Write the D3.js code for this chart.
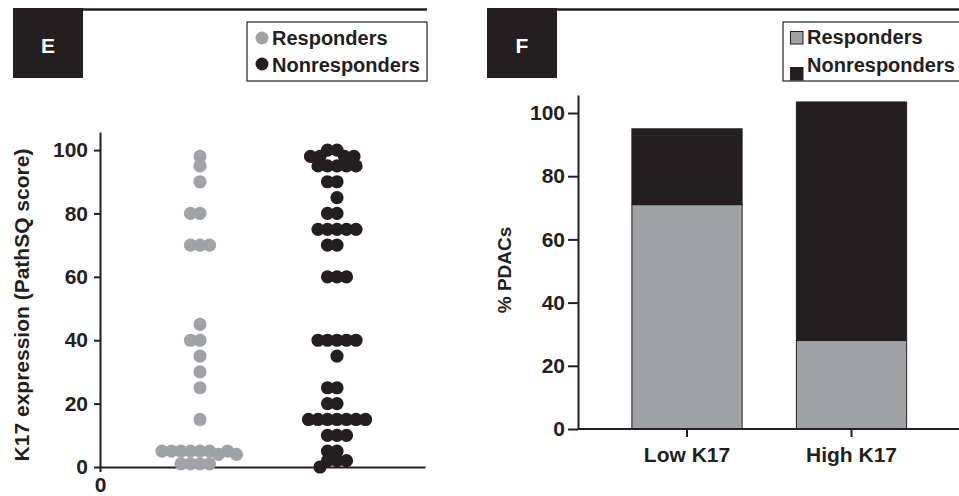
<!DOCTYPE html>
<html>
<head>
<meta charset="utf-8">
<script src="https://cdn.jsdelivr.net/npm/d3@7"></script>
<style>
  body { margin: 0; background: #fff; }
  svg { display: block; font-family: "Liberation Sans", Arial, sans-serif; font-weight: bold; }
  .axis path, .axis line { stroke: #231f20; stroke-width: 2; }
  .axis text { fill: #231f20; font-size: 21px; font-family: "Liberation Sans", Arial, sans-serif; font-weight: bold; }
</style>
</head>
<body>
<svg id="chart" width="959" height="496"></svg>
<script>
// panel E: individual PathSQ scores
var groups = ["Responders", "Nonresponders"]
var responderScores = [98, 95, 90, 80, 80, 70, 70, 70, 45, 40, 40, 35, 30, 25, 15,
    5, 5, 5, 5, 4, 5, 5, 4, 5, 1, 1, 1, 1]
var nonresponderScores = [100, 100, 98, 98, 98, 98, 95, 95, 95, 95, 95, 90, 90, 85, 80, 80,
    75, 75, 75, 75, 75, 70, 70, 60, 60, 60, 40, 40, 40, 40, 40, 35, 25, 25, 20, 20,
    15, 15, 15, 15, 15, 15, 15, 10, 10, 10, 5, 5, 2, 2, 2, 0]
var yTicksE = [0, 20, 40, 60, 80, 100]

// panel F: % PDACs per K17 group
var k17Groups = ["Low K17", "High K17"]
var responderPct = [71, 28]
var nonresponderPct = [24, 75.5]
var yTicksF = [0, 20, 40, 60, 80, 100]

var ink = "#231f20"
var grey = "#a1a2a5"
var svg = d3.select("#chart")

// ---------- panel headers ----------
function header(x0, x1, letter) {
    svg.append("rect").attr("x", x0).attr("y", 8).attr("width", 70).attr("height", 70).attr("fill", ink)
    svg.append("text").attr("x", x0 + 35).attr("y", 52.5).attr("text-anchor", "middle")
        .attr("fill", "#fff").attr("font-size", 21).text(letter)
    svg.append("line").attr("x1", x0 + 70).attr("x2", x1).attr("y1", 9.5).attr("y2", 9.5)
        .attr("stroke", ink).attr("stroke-width", 2.5)
}
header(13, 427, "E")
header(487, 959, "F")

// ---------- panel E ----------
var yE = d3.scaleLinear().domain([0, 105.7]).range([467, 132])
var xE = d3.scaleBand().domain(groups).range([131.5, 405.5])

svg.append("g").attr("class", "axis")
    .attr("transform", "translate(100,0)")
    .call(d3.axisLeft(yE).tickValues(yTicksE).tickSize(6).tickSizeOuter(0).tickPadding(6))

// x axis with its single "0" tick
var xLine = d3.scaleLinear().domain([0, 3.25]).range([100, 425])
svg.append("g").attr("class", "axis")
    .attr("transform", "translate(0,467)")
    .call(d3.axisBottom(xLine).tickValues([0]).tickFormat(d3.format("d")).tickSize(5).tickSizeOuter(0).tickPadding(5))

svg.append("text")
    .attr("transform", "translate(29,305) rotate(-90)")
    .attr("text-anchor", "middle").attr("font-size", 21).attr("fill", ink)
    .text("K17 expression (PathSQ score)")

// simple dodge layout: each dot takes the nearest free x to the column centre
function dodge(values, y, gap) {
    var placed = []
    return values.map(v => {
        var cy = y(v)
        var best = 0
        for (var k = 0; k < 400; k++) {
            var off = (k % 2 === 0 ? 1 : -1) * Math.ceil(k / 2) * 0.5
            var ok = placed.every(p => (p.x - off) * (p.x - off) + (p.y - cy) * (p.y - cy) >= gap * gap - 0.01)
            if (ok) { best = off; break }
        }
        var pt = { x: best, y: cy, v: v }
        placed.push(pt)
        return pt
    })
}

var series = [
    { key: "Responders", scores: responderScores, fill: grey },
    { key: "Nonresponders", scores: nonresponderScores, fill: ink }
]
series.forEach(s => {
    var cx = xE(s.key) + xE.bandwidth() / 2
    svg.append("g").selectAll("circle")
        .data(dodge(s.scores, yE, 9.5))
        .enter()
        .append("circle")
        .attr("cx", d => cx + d.x)
        .attr("cy", d => d.y)
        .attr("r", 6.6)
        .attr("fill", s.fill)
})

// legend E
var legE = svg.append("g")
legE.append("rect").attr("x", 247).attr("y", 22).attr("width", 180).attr("height", 59)
    .attr("fill", "#fff").attr("stroke", ink).attr("stroke-width", 1.2)
series.forEach((s, i) => {
    legE.append("circle").attr("cx", 262).attr("cy", 38 + i * 26).attr("r", 6.5).attr("fill", s.fill)
    legE.append("text").attr("x", 272).attr("y", 45 + i * 26.5).attr("font-size", 20).attr("fill", ink).text(s.key)
})

// ---------- panel F ----------
var yF = d3.scaleLinear().domain([0, 105.7]).range([429, 95])
var xF = d3.scaleBand().domain(k17Groups).range([604.75, 933.75]).paddingInner(0.33).paddingOuter(0.165)

var table = k17Groups.map((g, i) => ({ group: g, Responders: responderPct[i], Nonresponders: nonresponderPct[i] }))
var stacked = d3.stack().keys(groups)(table)
var colorF = d3.scaleOrdinal().domain(groups).range([grey, ink])

svg.append("g").selectAll("g")
    .data(stacked)
    .enter()
    .append("g")
    .attr("fill", d => colorF(d.key))
    .selectAll("rect")
    .data(d => d)
    .enter()
    .append("rect")
    .attr("x", d => xF(d.data.group))
    .attr("y", d => yF(d[1]))
    .attr("width", xF.bandwidth())
    .attr("height", d => yF(d[0]) - yF(d[1]))
    .attr("stroke", ink)
    .attr("stroke-width", 1)

svg.append("g").attr("class", "axis")
    .attr("transform", "translate(578,0)")
    .call(d3.axisLeft(yF).tickValues(yTicksF).tickSize(10).tickSizeOuter(0).tickPadding(3))

svg.append("g").attr("class", "axis")
    .attr("transform", "translate(0,429)")
    .call(d3.axisBottom(xF).tickSize(8).tickSizeOuter(0).tickPadding(10))
    .call(g => g.select(".domain").attr("d", "M578,0H959"))

svg.append("text")
    .attr("transform", "translate(511,270) rotate(-90)")
    .attr("text-anchor", "middle").attr("font-size", 19).attr("fill", ink)
    .text("% PDACs")

// legend F
var legF = svg.append("g")
legF.append("rect").attr("x", 783).attr("y", 22).attr("width", 200).attr("height", 59)
    .attr("fill", "#fff").attr("stroke", ink).attr("stroke-width", 1.2)
groups.forEach((k, i) => {
    legF.append("rect").attr("x", 790.5).attr("y", 31.5 + i * 36).attr("width", 12.5).attr("height", 12.5)
        .attr("fill", colorF(k)).attr("stroke", ink).attr("stroke-width", 1)
    legF.append("text").attr("x", 807).attr("y", 44 + i * 28).attr("font-size", 20).attr("fill", ink).text(k)
})
</script>
</body>
</html>
